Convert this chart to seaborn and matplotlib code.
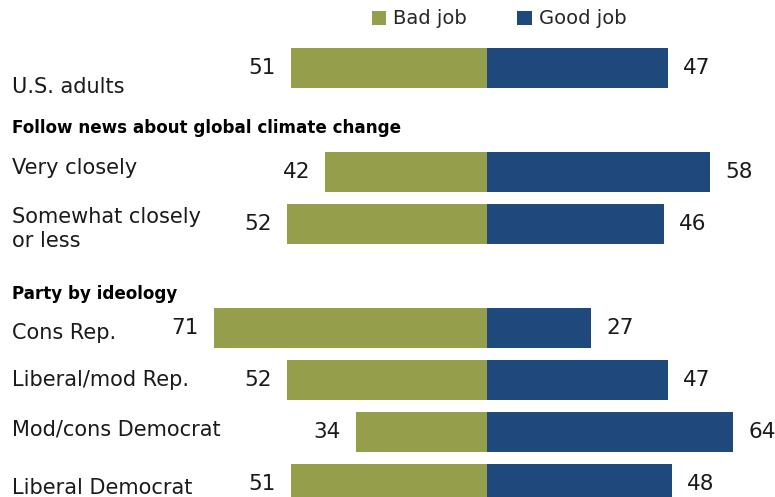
import matplotlib
matplotlib.use("Agg")
import matplotlib.pyplot as plt
import matplotlib.transforms as mtransforms
from matplotlib.patches import Patch
import seaborn as sns
import pandas as pd

# ---- data ----
row_labels = ["U.S. adults", "Very closely", "Somewhat closely\nor less",
              "Cons Rep.", "Liberal/mod Rep.", "Mod/cons Democrat", "Liberal Democrat"]
bad_job = [51, 42, 52, 71, 52, 34, 51]
good_job = [47, 58, 46, 27, 47, 64, 48]
section_headers = ["Follow news about global climate change", "Party by ideology"]
# row slot order: None marks a header gap
layout = ["U.S. adults", None, "Very closely", "Somewhat closely\nor less", None,
          "Cons Rep.", "Liberal/mod Rep.", "Mod/cons Democrat", "Liberal Democrat"]
series_names = ["Bad job", "Good job"]
colors = {"Bad job": "#949E4B", "Good job": "#1F497D"}

# ---- build long table ----
order = []
gap_i = 0
for item in layout:
    if item is None:
        gap_i += 1
        order.append(" " * gap_i)
    else:
        order.append(item)

rows = []
for lab, b, g in zip(row_labels, bad_job, good_job):
    rows.append({"row": lab, "resp": "Bad job", "val": -b, "num": b})
    rows.append({"row": lab, "resp": "Good job", "val": g, "num": g})
df = pd.DataFrame(rows)

sns.set_theme(style="white")
plt.rcParams["font.family"] = ["DejaVu Sans"]

fig = plt.figure(figsize=(7.75, 4.97), dpi=100)
ax = fig.add_axes([0, 0, 1, 1])
sns.barplot(data=df, x="val", y="row", hue="resp", order=order,
            hue_order=series_names, palette=colors, dodge=False,
            width=0.77, orient="h", ax=ax, legend=False, saturation=1)
for p in ax.patches:
    p.set_linewidth(0)

px_per_unit = 3.85
W, H = 775, 497
center_px = 487
ax.set_xlim(-center_px / px_per_unit, (W - center_px) / px_per_unit)
slot_px = 52
first_px = 68
ax.set_ylim((H - first_px) / slot_px, -first_px / slot_px)
ax.axis("off")

label_size = 15
num_size = 15.5
# small vertical text nudges (in row units), styling only
label_nudge = {"U.S. adults": 0.37, "Very closely": -0.08,
               "Somewhat closely\nor less": 0.1, "Cons Rep.": 0.1,
               "Mod/cons Democrat": -0.04, "Liberal Democrat": 0.07}

xtrans = mtransforms.blended_transform_factory(fig.transFigure, ax.transData)
pos = {name: i for i, name in enumerate(order)}
for lab, b, g in zip(row_labels, bad_job, good_job):
    y = pos[lab]
    ly = y + label_nudge.get(lab, 0)
    ax.text(12 / W, ly, lab, transform=xtrans, ha="left", va="center",
            fontsize=label_size, color="#1a1a1a", linespacing=1.25)
    off = 15 / px_per_unit
    ax.text(-b - off, y, str(b), ha="right", va="center", fontsize=num_size,
            color="#1a1a1a")
    ax.text(g + off, y, str(g), ha="left", va="center", fontsize=num_size,
            color="#1a1a1a")

gaps = [i for i, it in enumerate(layout) if it is None]
nudges = [0.16, 0.34]
for hdr, gi, nd in zip(section_headers, gaps, nudges):
    ax.text(12 / W, gi + nd, hdr, transform=xtrans, ha="left", va="center",
            fontsize=12.1, fontweight="bold", color="#000000")

handles = [Patch(facecolor=colors[s], edgecolor="none", label=s) for s in series_names]
fig.legend(handles=handles, loc="center", bbox_to_anchor=(499 / W, 1 - 19 / H),
           ncol=2, frameon=False, fontsize=14, handlelength=0.75, handleheight=0.75,
           handletextpad=0.35, columnspacing=2.6)

fig.savefig("out.png", dpi=100)
